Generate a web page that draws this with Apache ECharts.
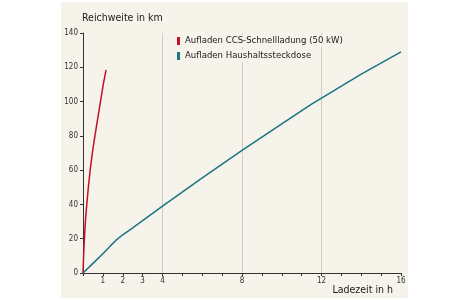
<!DOCTYPE html>
<html><head><meta charset="utf-8">
<script src="https://cdn.jsdelivr.net/npm/echarts@6/dist/echarts.min.js"></script>
<style>html,body{margin:0;padding:0;background:#fff}#c{width:450px;height:300px}</style>
</head><body><div id="c"></div>
<script>
var FONT = "'DejaVu Sans Condensed','Liberation Sans Narrow',sans-serif";
var seriesNames = ['Aufladen CCS-Schnellladung (50 kW)', 'Aufladen Haushaltssteckdose'];
var fastCharge = [[0,0],[0.03,10],[0.07,20],[0.12,30],[0.19,40],[0.27,50],[0.36,60],[0.47,70],[0.6,80],[0.74,90],[0.88,100],[1.02,110],[1.16,118.5]];
var homeCharge = [[0,0],[0.5,5.6],[1,11.2],[1.4,16.1],[1.7,19.5],[2,22.3],[2.5,26.3],[3,30.5],[4,39],[6,55.5],[8,71.5],[10,87],[11.5,98.5],[12,102],[14,116],[16,129]];
var xLabels = [1,2,3,4,8,12,16];
var gridHours = [4,8,12];
var colors = ['#c0102c','#1c7384'];

var chart = echarts.init(document.getElementById('c'));
chart.setOption({
  animation:false,
  backgroundColor:'#ffffff',
  graphic:[{type:'rect',z:-10,shape:{x:61,y:2,width:347,height:296},style:{fill:'#f5f3ea'}},
    {type:'text',left:82,top:13,style:{text:'Reichweite in km',font:'10.5px '+FONT,fill:'#1a1a1a'}},
    {type:'text',right:57,top:285,style:{text:'Ladezeit in h',font:'10.5px '+FONT,fill:'#1a1a1a'}}],
  grid:{left:83,right:49,top:33,bottom:27},
  legend:{left:172,top:30,orient:'vertical',itemWidth:3,itemHeight:8,itemGap:3,icon:'rect',
    textStyle:{fontFamily:FONT,fontSize:9.5,color:'#1a1a1a',backgroundColor:'#f5f3ea',padding:[1,2,1,0]},
    data:seriesNames},
  xAxis:{type:'value',min:0,max:16,interval:1,
    axisLine:{show:true,lineStyle:{color:'#333',width:1}},
    axisTick:{show:true,length:3,lineStyle:{color:'#333'}},
    axisLabel:{fontFamily:FONT,fontSize:8,color:'#333',margin:4,
      formatter:function(v){return xLabels.indexOf(v)>=0?String(v):'';}},
    splitLine:{show:false}},
  yAxis:{type:'value',min:0,max:140,interval:20,
    axisLine:{show:true,lineStyle:{color:'#333',width:1}},
    axisTick:{show:true,length:3,lineStyle:{color:'#333'}},
    axisLabel:{fontFamily:FONT,fontSize:8,color:'#333',margin:5},
    splitLine:{show:false}},
  series:[
    {name:seriesNames[0],type:'line',data:fastCharge,smooth:false,showSymbol:false,
      lineStyle:{color:colors[0],width:1.5},itemStyle:{color:colors[0]},z:3},
    {name:seriesNames[1],type:'line',data:homeCharge,smooth:false,showSymbol:false,
      lineStyle:{color:colors[1],width:1.5},itemStyle:{color:colors[1]},z:3,
      markLine:{silent:true,symbol:'none',label:{show:false},z:1,
        lineStyle:{color:'#cfcdc6',width:1,type:'solid'},
        data:gridHours.map(function(h){return {xAxis:h};})}}
  ]
});
</script></body></html>
